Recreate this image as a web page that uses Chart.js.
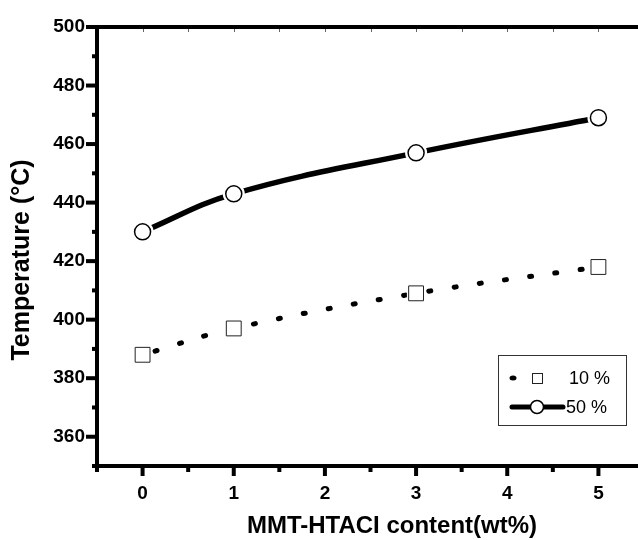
<!DOCTYPE html>
<html>
<head>
<meta charset="utf-8">
<script src="https://cdn.jsdelivr.net/npm/chart.js@4.4.0/dist/chart.umd.min.js"></script>
<style>
  html, body { margin: 0; padding: 0; background: #fff; overflow: hidden; }
  #marco { position: relative; width: 638px; height: 540px; overflow: hidden; }
</style>
</head>
<body>
<div id="marco"><canvas id="grafico-temperatura" width="660" height="540"></canvas></div>
<script>
// Datos
const contenido = [0, 1, 3, 5];
const temp10 = [388, 397, 409, 418];
const temp50 = [430, 443, 457, 469];
const etiquetas = ['10 %', '50 %'];
const tituloX = 'MMT-HTACI content(wt%)';
const tituloY = 'Temperature (°C)';

const fuente = '"Liberation Sans", Arial, sans-serif';

function puntos(ys) {
  return contenido.map((x, i) => ({ x: x, y: ys[i] }));
}

function linea(ctx, x1, y1, x2, y2) {
  ctx.beginPath();
  ctx.moveTo(x1, y1);
  ctx.lineTo(x2, y2);
  ctx.stroke();
}

// Ejes, marcas, títulos y leyenda
const ejes = {
  id: 'ejes',
  afterDraw(chart) {
    const ctx = chart.ctx;
    const a = chart.chartArea;
    const sx = chart.scales.x;
    const sy = chart.scales.y;
    ctx.save();
    ctx.lineCap = 'butt';

    // marcas finas internas arriba
    ctx.lineWidth = 1;
    ctx.strokeStyle = '#666';
    sx.ticks.forEach(t => {
      const px = Math.round(sx.getPixelForValue(t.value)) + 0.5;
      linea(ctx, px, a.top + 2, px, a.top + 5);
    });

    ctx.strokeStyle = '#000';
    ctx.lineWidth = 4;
    sx.ticks.forEach(t => {
      const px = sx.getPixelForValue(t.value);
      const largo = Number.isInteger(t.value) ? 10 : 6;
      linea(ctx, px, a.bottom, px, a.bottom + largo);
    });
    sy.ticks.forEach(t => {
      const py = sy.getPixelForValue(t.value);
      const largo = t.value % 20 === 0 ? 11 : 5;
      linea(ctx, a.left, py, a.left - largo, py);
    });
    ctx.strokeRect(a.left, a.top, a.right - a.left, a.bottom - a.top);

    // títulos de ejes
    ctx.fillStyle = '#000';
    ctx.font = 'bold 24px ' + fuente;
    ctx.textAlign = 'center';
    ctx.textBaseline = 'middle';
    ctx.fillText(tituloX, 392, 526);
    ctx.save();
    ctx.translate(22, 260);
    ctx.rotate(-Math.PI / 2);
    ctx.font = 'bold 25px ' + fuente;
    ctx.fillText(tituloY, 0, 0);
    ctx.restore();

    // leyenda
    ctx.lineWidth = 1;
    ctx.strokeStyle = '#333';
    ctx.strokeRect(498.5, 355.5, 128, 70);
    const f1 = 378, f2 = 407;
    ctx.fillStyle = '#000';
    ctx.beginPath();
    ctx.ellipse(513, f1, 3.5, 2.5, 0, 0, Math.PI * 2);
    ctx.fill();
    ctx.fillStyle = '#fff';
    ctx.strokeStyle = '#222';
    ctx.fillRect(532, f1 - 5, 10, 10);
    ctx.strokeRect(532.5, f1 - 4.5, 10, 10);
    ctx.strokeStyle = '#000';
    ctx.lineWidth = 5;
    ctx.lineCap = 'round';
    linea(ctx, 512, f2, 563, f2);
    ctx.lineWidth = 1.5;
    ctx.beginPath();
    ctx.arc(537, f2, 6.5, 0, Math.PI * 2);
    ctx.fill();
    ctx.stroke();
    ctx.fillStyle = '#000';
    ctx.font = '18px ' + fuente;
    ctx.textAlign = 'left';
    ctx.fillText(etiquetas[0], 569, f1 + 1);
    ctx.fillText(etiquetas[1], 566, f2 + 1);
    ctx.restore();
  }
};

const canvas = document.getElementById('grafico-temperatura');

new Chart(canvas, {
  type: 'line',
  data: {
    datasets: [
      {
        label: etiquetas[0],
        data: puntos(temp10),
        borderColor: '#000',
        borderWidth: 5,
        borderDash: [2, 23.5],
        borderDashOffset: -13,
        borderCapStyle: 'round',
        pointRadius: 0,
        tension: 0.4,
        order: 3
      },
      {
        label: etiquetas[1],
        data: puntos(temp50),
        borderColor: '#000',
        borderWidth: 5.5,
        borderCapStyle: 'round',
        pointRadius: 0,
        tension: 0.4,
        order: 3
      },
      // halos blancos alrededor de los marcadores
      {
        data: puntos(temp10),
        showLine: false,
        pointStyle: 'rect',
        pointRadius: 13,
        pointBackgroundColor: '#fff',
        pointBorderColor: '#fff',
        pointBorderWidth: 0,
        order: 2
      },
      {
        data: puntos(temp50),
        showLine: false,
        pointStyle: 'circle',
        pointRadius: 11,
        pointBackgroundColor: '#fff',
        pointBorderColor: '#fff',
        pointBorderWidth: 0,
        order: 2
      },
      // marcadores
      {
        data: puntos(temp10),
        showLine: false,
        pointStyle: 'rect',
        pointRadius: 10.5,
        pointBackgroundColor: '#fff',
        pointBorderColor: '#222',
        pointBorderWidth: 1,
        order: 1
      },
      {
        data: puntos(temp50),
        showLine: false,
        pointStyle: 'circle',
        pointRadius: 8,
        pointBackgroundColor: '#fff',
        pointBorderColor: '#000',
        pointBorderWidth: 1.5,
        order: 1
      }
    ]
  },
  options: {
    responsive: false,
    animation: false,
    events: [],
    layout: {
      padding: { top: 27, right: 13, left: 0, bottom: 0 }
    },
    plugins: {
      legend: { display: false },
      tooltip: { enabled: false }
    },
    scales: {
      x: {
        type: 'linear',
        min: -0.5,
        max: 5.5,
        grid: { display: false, drawTicks: false },
        border: { display: false },
        afterFit: scale => { scale.height = 74; },
        ticks: {
          stepSize: 0.5,
          maxTicksLimit: 20,
          autoSkip: false,
          maxRotation: 0,
          padding: 16,
          color: '#000',
          font: { family: fuente, size: 19, weight: 'bold' },
          callback: v => Number.isInteger(v) ? String(v) : ''
        }
      },
      y: {
        min: 350,
        max: 500,
        grid: { display: false, drawTicks: false },
        border: { display: false },
        afterFit: scale => { scale.width = 97; },
        ticks: {
          stepSize: 10,
          maxTicksLimit: 20,
          autoSkip: false,
          padding: 12,
          color: '#000',
          font: { family: fuente, size: 19, weight: 'bold' },
          callback: v => v % 20 === 0 ? String(v) : ''
        }
      }
    }
  },
  plugins: [ejes]
});
</script>
</body>
</html>
